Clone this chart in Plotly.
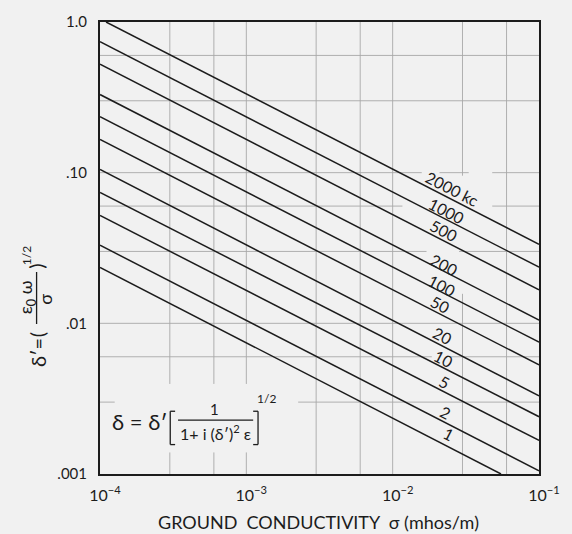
import numpy as np
import plotly.graph_objects as go

# ---------------- data ----------------
freq_labels = ["2000 kc", "1000", "500", "200", "100", "50", "20", "10", "5", "2", "1"]
sigma_start = [1.1e-4, 1e-4, 1e-4, 1e-4, 1e-4, 1e-4, 1e-4, 1e-4, 1e-4, 1e-4, 1e-4]
delta_start = [1.0, 0.74, 0.525, 0.33, 0.235, 0.166, 0.105, 0.074, 0.052, 0.033, 0.0235]
sigma_end = [0.1, 0.1, 0.1, 0.1, 0.1, 0.1, 0.1, 0.1, 0.1, 0.1, 0.055]
delta_end = [0.0335, 0.0236, 0.0167, 0.0105, 0.0075, 0.0053, 0.0033, 0.0024, 0.00167, 0.00105, 0.001]

label_sigma = [0.0251, 0.0229, 0.0221, 0.0221, 0.0215, 0.0210, 0.0215, 0.0218, 0.0221, 0.0227, 0.0236]
label_delta = [0.0762, 0.0545, 0.0401, 0.0237, 0.0174, 0.0130, 0.0080, 0.00565, 0.00398, 0.00248, 0.00179]

x_tickvals = [1e-4, 1e-3, 1e-2, 1e-1]
x_ticktext = ["10<sup>−4</sup>", "10<sup>−3</sup>", "10<sup>−2</sup>", "10<sup>−1</sup>"]
y_tickvals = [0.001, 0.01, 0.1, 1.0]
y_ticktext = [".001", ".01", ".10", "1.0"]

# grid lines (value, list of gaps in the other coordinate)
x_grid = [3e-4, 6e-4, 1e-3, 3e-3, 6e-3, 1e-2, 3e-2, 6e-2]
x_grid_gaps = [[(0.00139, 0.00396)], [(0.00139, 0.00396)], [(0.00139, 0.00396)],
               [], [], [], [(0.0157, 0.0955)], []]
y_grid = [0.6, 0.3, 0.1, 0.06, 0.03, 0.01, 0.006, 0.003]
y_grid_gaps = [[], [], [(0.0158, 0.0209), (0.0331, 0.0479)], [(0.01166, 0.0479)],
               [(0.01703, 0.0284)], [], [(0.0185, 0.0251)], [(1.26e-4, 2.26e-3)]]

X_RANGE = (1e-4, 1e-1)
Y_RANGE = (1e-3, 1.0)

BG = "#f1f1f1"
INK = "#1c1c1c"
GRID = "#a8a8a8"
FONT = "Lato, 'Open Sans', 'DejaVu Sans', sans-serif"

fig = go.Figure()


def segments(lo, hi, gaps):
    pts = [lo]
    for a, b in gaps:
        pts += [a, b]
    pts.append(hi)
    return [(pts[i], pts[i + 1]) for i in range(0, len(pts), 2)]


gx, gy = [], []
for v, gaps in zip(x_grid, x_grid_gaps):
    for a, b in segments(Y_RANGE[0], Y_RANGE[1], gaps):
        gx += [v, v, None]
        gy += [a, b, None]
for v, gaps in zip(y_grid, y_grid_gaps):
    for a, b in segments(X_RANGE[0], X_RANGE[1], gaps):
        gx += [a, b, None]
        gy += [v, v, None]
fig.add_trace(go.Scatter(x=gx, y=gy, mode="lines", line=dict(color=GRID, width=0.9),
                         hoverinfo="skip", showlegend=False))

for i in range(len(freq_labels)):
    fig.add_trace(go.Scatter(x=[sigma_start[i], sigma_end[i]], y=[delta_start[i], delta_end[i]],
                             mode="lines", line=dict(color=INK, width=1.5),
                             showlegend=False, hoverinfo="skip"))

# ---------------- plot area geometry (pixels) ----------------
W, H = 572, 534
ML, MR, MT, MB = 100, 22, 13, 60
PW, PH = W - ML - MR, H - MT - MB


def px(xp):
    return (xp - ML) / PW


def py(yp):
    return (H - MB - yp) / PH


annotations = []
angle = float(np.degrees(np.arctan((0.5 * PH / 3) / (PW / 3))))
for lab, xs, ys in zip(freq_labels, label_sigma, label_delta):
    annotations.append(dict(x=np.log10(xs), y=np.log10(ys), xref="x", yref="y", text=lab,
                            showarrow=False, textangle=angle, yshift=2, xshift=1,
                            font=dict(family=FONT, size=16, color=INK)))


def ann(x, y, text, size=16, angle=0, **kw):
    d = dict(x=px(x), y=py(y), xref="paper", yref="paper", text=text, showarrow=False,
             textangle=angle, font=dict(family=FONT, size=size, color=INK),
             xanchor="center", yanchor="middle")
    d.update(kw)
    annotations.append(d)


# y axis title:  δ' = ( ε0 ω / σ )^(1/2)  rotated
ann(37, 350, "δ′=", 20, -90)
ann(35, 332, "(", 20, -90)
ann(25, 294, "ε<sub>0</sub> ω", 18, -90)
ann(44, 296, "σ", 18, -90)
ann(35, 262, ")", 20, -90)
ann(24, 251, "1/2", 12, -90)

# formula inside plot
ann(141, 420, "δ = δ′", 22)
ann(217, 408, "1", 15)
ann(218, 432, "1+ i (δ′)<sup>2</sup> ε", 16)
ann(271, 397, "1/2", 12)

# x title
ann(324, 523, "GROUND  CONDUCTIVITY  σ (mhos/m)", 18)

shapes = []


def seg(x0, y0, x1, y1, w=1.2):
    shapes.append(dict(type="line", xref="paper", yref="paper", x0=px(x0), y0=py(y0),
                       x1=px(x1), y1=py(y1), line=dict(color=INK, width=w)))


# y-title fraction bar
seg(35, 268, 35, 321, 1.3)
# formula fraction bar and brackets
seg(180, 419, 257, 419, 1.2)
seg(172, 410, 172, 444, 1.3)
seg(172, 410, 177, 410, 1.3)
seg(172, 444, 177, 444, 1.3)
seg(262, 410, 262, 444, 1.3)
seg(257, 410, 262, 410, 1.3)
seg(257, 444, 262, 444, 1.3)

fig.update_layout(
    width=W, height=H,
    margin=dict(l=ML, r=MR, t=MT, b=MB),
    paper_bgcolor=BG, plot_bgcolor=BG,
    font=dict(family=FONT, color=INK),
    annotations=annotations, shapes=shapes,
    showlegend=False,
)
fig.update_xaxes(type="log", range=[np.log10(X_RANGE[0]), np.log10(X_RANGE[1])],
                 showgrid=False, zeroline=False, showline=True, mirror=True,
                 linecolor=INK, linewidth=2, ticks="",
                 tickvals=x_tickvals, ticktext=x_ticktext, ticklabelshift=5,
                 ticklabelstandoff=6, tickfont=dict(family=FONT, size=16, color=INK))
fig.update_yaxes(type="log", range=[np.log10(Y_RANGE[0]), np.log10(Y_RANGE[1])],
                 showgrid=False, zeroline=False, showline=True, mirror=True,
                 linecolor=INK, linewidth=2, ticks="",
                 tickvals=y_tickvals, ticktext=y_ticktext, ticklabelstandoff=8,
                 tickfont=dict(family=FONT, size=15, color=INK))

fig.write_html("out.html")
